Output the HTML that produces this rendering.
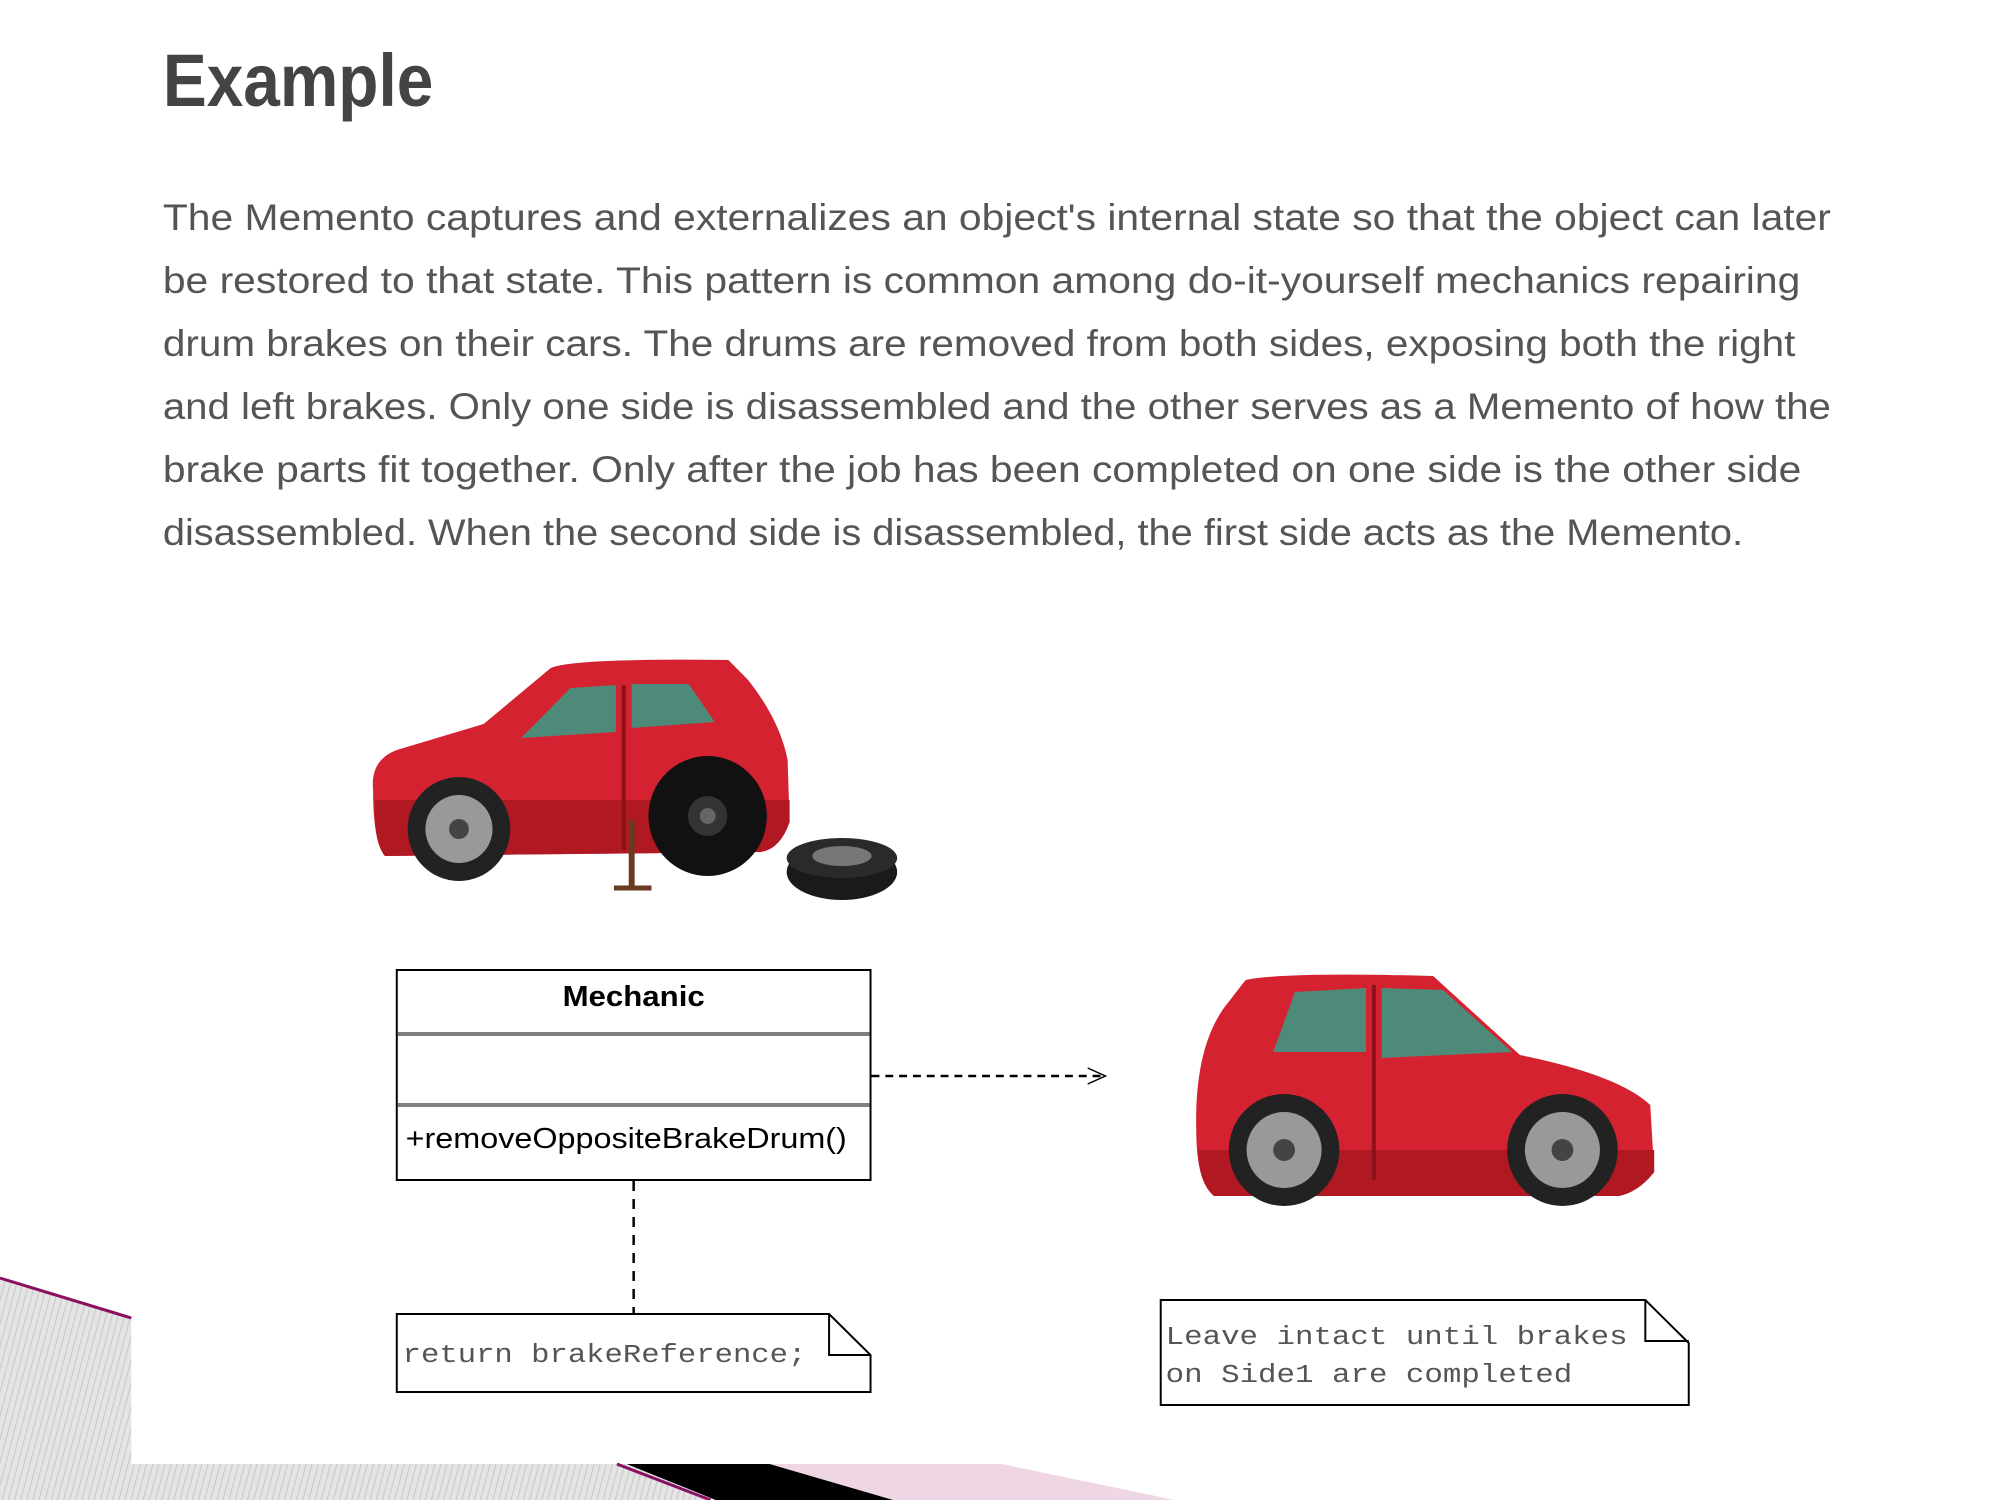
<!DOCTYPE html>
<html><head><meta charset="utf-8"><style>
html,body{margin:0;padding:0;background:#fff;width:2000px;height:1500px;overflow:hidden}
svg{display:block}
</style></head><body>
<svg width="2000" height="1500" viewBox="0 0 2000 1500" xmlns="http://www.w3.org/2000/svg">
<defs>
<pattern id="hatch" width="6" height="6" patternUnits="userSpaceOnUse" patternTransform="rotate(15)">
<rect width="6" height="6" fill="#e4e4e4"/><line x1="0" y1="0" x2="0" y2="6" stroke="#bdbdbd" stroke-width="1.5"/>
</pattern>
</defs>
<rect width="2000" height="1500" fill="#fff"/>
<g transform="scale(0.987,1)">
<!-- background decoration -->
<polygon points="0,1278 133,1318 133,1464 640,1464 720,1500 0,1500" fill="url(#hatch)"/>
<line x1="0" y1="1278" x2="133" y2="1318" stroke="#8a1060" stroke-width="3"/>
<polygon points="635,1464 780,1464 905,1500 725,1500" fill="#000"/>
<line x1="625" y1="1464" x2="720" y2="1500" stroke="#8a1060" stroke-width="3"/>
<polygon points="780,1464 1015,1464 1190,1500 905,1500" fill="#efd6e4"/>

<!-- title -->
<text x="165" y="106" font-family="Liberation Sans, sans-serif" font-weight="bold" font-size="74" fill="#444" textLength="274" lengthAdjust="spacingAndGlyphs">Example</text>

<!-- paragraph -->
<g font-family="Liberation Sans, sans-serif" font-size="37" fill="#555">
<text x="165" y="230" textLength="1690" lengthAdjust="spacingAndGlyphs">The Memento captures and externalizes an object's internal state so that the object can later</text>
<text x="165" y="293" textLength="1659" lengthAdjust="spacingAndGlyphs">be restored to that state. This pattern is common among do-it-yourself mechanics repairing</text>
<text x="165" y="356" textLength="1654" lengthAdjust="spacingAndGlyphs">drum brakes on their cars. The drums are removed from both sides, exposing both the right</text>
<text x="165" y="419" textLength="1690" lengthAdjust="spacingAndGlyphs">and left brakes. Only one side is disassembled and the other serves as a Memento of how the</text>
<text x="165" y="482" textLength="1660" lengthAdjust="spacingAndGlyphs">brake parts fit together. Only after the job has been completed on one side is the other side</text>
<text x="165" y="545" textLength="1601" lengthAdjust="spacingAndGlyphs">disassembled. When the second side is disassembled, the first side acts as the Memento.</text>
</g>

<!-- car 1 -->
<g>
<path d="M378 790 Q375 760 402 750 L490 724 L558 668 Q580 658 738 660 L758 680 Q790 720 798 760 L800 822 Q790 850 770 852 L390 856 Q378 842 378 790 Z" fill="#d52230"/>
<path d="M380 800 L800 800 L800 822 Q790 850 770 852 L390 856 Q378 842 380 800Z" fill="#b01822"/>
<polygon points="528,738 578,688 624,685 624,732" fill="#4e8a7a"/>
<polygon points="640,684 698,684 724,722 640,728" fill="#4e8a7a"/>
<line x1="632" y1="685" x2="632" y2="850" stroke="#8f1018" stroke-width="4"/>
<circle cx="465" cy="829" r="52" fill="#222"/><circle cx="465" cy="829" r="34" fill="#999"/><circle cx="465" cy="829" r="10" fill="#444"/>
<circle cx="717" cy="816" r="60" fill="#111"/><circle cx="717" cy="816" r="20" fill="#333"/><circle cx="717" cy="816" r="8" fill="#666"/>
<line x1="640" y1="820" x2="640" y2="888" stroke="#6a3a20" stroke-width="6"/>
<line x1="622" y1="888" x2="660" y2="888" stroke="#6a3a20" stroke-width="5"/>
<ellipse cx="853" cy="872" rx="56" ry="28" fill="#1a1a1a"/>
<ellipse cx="853" cy="858" rx="56" ry="20" fill="#2a2a2a"/>
<ellipse cx="853" cy="856" rx="30" ry="10" fill="#777"/>
</g>

<!-- car 2 -->
<g>
<path d="M1212 1130 Q1210 1050 1240 1008 L1262 980 Q1300 972 1452 976 L1540 1055 Q1640 1075 1672 1105 L1676 1172 Q1660 1192 1640 1196 L1230 1196 Q1212 1182 1212 1130 Z" fill="#d52230"/>
<path d="M1214 1150 L1676 1150 L1676 1172 Q1660 1192 1640 1196 L1230 1196 Q1214 1182 1214 1150Z" fill="#b01822"/>
<polygon points="1290,1052 1312,992 1384,988 1384,1052" fill="#4e8a7a"/>
<polygon points="1400,988 1462,990 1532,1052 1400,1058" fill="#4e8a7a"/>
<line x1="1392" y1="985" x2="1392" y2="1180" stroke="#8f1018" stroke-width="4"/>
<circle cx="1301" cy="1150" r="56" fill="#222"/><circle cx="1301" cy="1150" r="38" fill="#999"/><circle cx="1301" cy="1150" r="11" fill="#444"/>
<circle cx="1583" cy="1150" r="56" fill="#222"/><circle cx="1583" cy="1150" r="38" fill="#999"/><circle cx="1583" cy="1150" r="11" fill="#444"/>
</g>

<!-- Mechanic class -->
<rect x="402" y="970" width="480" height="210" fill="#fff" stroke="#000" stroke-width="2"/>
<line x1="403" y1="1034" x2="881" y2="1034" stroke="#808080" stroke-width="4"/>
<line x1="403" y1="1105" x2="881" y2="1105" stroke="#808080" stroke-width="4"/>
<text x="642" y="1006" text-anchor="middle" font-family="Liberation Sans, sans-serif" font-weight="bold" font-size="29" fill="#000" textLength="144" lengthAdjust="spacingAndGlyphs">Mechanic</text>
<text x="411" y="1148" font-family="Liberation Sans, sans-serif" font-size="29" fill="#000" textLength="447" lengthAdjust="spacingAndGlyphs">+removeOppositeBrakeDrum()</text>

<!-- connectors -->
<line x1="883" y1="1076" x2="1118" y2="1076" stroke="#000" stroke-width="2.5" stroke-dasharray="8,6"/>
<polyline points="1102,1068 1120,1076 1102,1084" fill="none" stroke="#000" stroke-width="1.5"/>
<line x1="642" y1="1181" x2="642" y2="1314" stroke="#000" stroke-width="2.5" stroke-dasharray="10,8"/>

<!-- note 1 -->
<path d="M402 1314 L840 1314 L882 1355 L882 1392 L402 1392 Z" fill="#fff" stroke="#000" stroke-width="2"/>
<polyline points="840,1314 840,1355 882,1355" fill="none" stroke="#000" stroke-width="2"/>
<text x="408" y="1362" font-family="Liberation Mono, monospace" font-size="26" fill="#555" textLength="409" lengthAdjust="spacingAndGlyphs">return brakeReference;</text>

<!-- note 2 -->
<path d="M1176 1300 L1667 1300 L1711 1343 L1711 1405 L1176 1405 Z" fill="#fff" stroke="#000" stroke-width="2"/>
<polyline points="1667,1300 1667,1341 1711,1341" fill="none" stroke="#000" stroke-width="2"/>
<text x="1181" y="1344" font-family="Liberation Mono, monospace" font-size="26" fill="#555" textLength="468" lengthAdjust="spacingAndGlyphs">Leave intact until brakes</text>
<text x="1181" y="1382" font-family="Liberation Mono, monospace" font-size="26" fill="#555" textLength="412" lengthAdjust="spacingAndGlyphs">on Side1 are completed</text>
</g>
</svg>
</body></html>
